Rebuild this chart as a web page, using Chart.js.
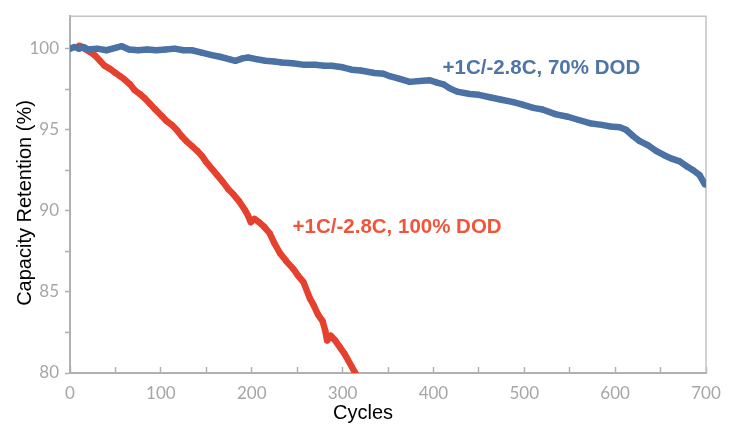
<!DOCTYPE html>
<html>
<head>
<meta charset="utf-8">
<script src="https://cdn.jsdelivr.net/npm/chart.js@4/dist/chart.umd.min.js"></script>
<style>
  html, body { margin: 0; padding: 0; background: #fff; }
  #wrap { width: 741px; height: 425px; position: relative; }
</style>
</head>
<body>
<div id="wrap"><canvas id="retentionChart"></canvas></div>
<script>
// 70% DOD series (blue)
const cycles70 = [0, 5, 10, 15, 20, 30, 40, 50, 57, 65, 75, 85, 95, 105, 115, 125, 134, 145, 156, 165,
  175, 182, 190, 196, 205, 215, 225, 233, 245, 258, 270, 280, 288, 300, 310, 320, 335, 345, 352, 362,
  374, 385, 396, 404, 411, 418, 426, 440, 450, 462, 475, 488, 498, 510, 520, 535, 548, 560, 572, 585,
  595, 605, 612, 620, 627, 636, 645, 655, 663, 671, 680, 686, 693, 699];
const retention70 = [100.0, 100.1, 100.0, 100.1, 99.95, 100.0, 99.9, 100.05, 100.15, 99.95, 99.9, 99.95, 99.9, 99.95, 100.0, 99.9, 99.9, 99.75, 99.6, 99.5,
  99.35, 99.25, 99.4, 99.45, 99.35, 99.25, 99.2, 99.15, 99.1, 99.0, 99.0, 98.95, 98.95, 98.85, 98.7, 98.65, 98.5, 98.45, 98.3, 98.15,
  97.95, 98.0, 98.05, 97.9, 97.8, 97.55, 97.35, 97.2, 97.15, 97.0, 96.85, 96.7, 96.55, 96.35, 96.25, 95.95, 95.8, 95.6, 95.4, 95.3,
  95.2, 95.15, 95.0, 94.6, 94.3, 94.05, 93.7, 93.4, 93.2, 93.05, 92.7, 92.5, 92.2, 91.6];

// 100% DOD series (red)
const cycles100 = [10, 16, 22, 27, 33, 38, 44, 50, 55, 60, 66, 71, 77, 82, 88, 93, 101, 106, 112, 118,
  123, 128, 134, 140, 145, 150, 156, 162, 168, 174, 180, 186, 192, 196, 199, 203, 208, 214, 220, 225, 231,
  238, 246, 251, 257, 264, 268, 273, 278, 281, 283, 287, 292, 297, 302, 306, 310, 314, 318];
const retention100 = [100.2, 100.0, 99.8, 99.6, 99.25, 98.95, 98.75, 98.5, 98.3, 98.1, 97.8, 97.45, 97.2, 96.95, 96.6, 96.3, 95.85, 95.55, 95.3, 94.95,
  94.6, 94.3, 94.0, 93.7, 93.4, 93.0, 92.6, 92.2, 91.8, 91.35, 91.0, 90.6, 90.1, 89.7, 89.3, 89.5, 89.3, 89.0, 88.6, 88.0, 87.4,
  86.9, 86.4, 86.0, 85.6, 84.6, 84.2, 83.6, 83.2, 82.6, 82.0, 82.3, 82.0, 81.6, 81.2, 80.8, 80.4, 80.0, 79.6];

const xTicks = [0, 100, 200, 300, 400, 500, 600, 700];
const yTicks = [80, 85, 90, 95, 100];

const seriesLabels = ['+1C/-2.8C, 70% DOD', '+1C/-2.8C, 100% DOD'];
const xTitle = 'Cycles';
const yTitle = 'Capacity Retention (%)';

const blue = '#4a72a5';
const red = '#e6412e';

function toPoints(xs, ys) {
    return xs.map((x, i) => ({ x: x, y: ys[i] }));
}

// Frame + annotation texts
const decorPlugin = {
    id: 'decor',
    beforeDatasetsDraw(chart) {
        const { ctx, chartArea } = chart;
        ctx.save();
        ctx.strokeStyle = '#c4c4c4';
        ctx.lineWidth = 1.5;
        ctx.beginPath();
        ctx.moveTo(chartArea.left, chartArea.top);
        ctx.lineTo(chartArea.right, chartArea.top);
        ctx.lineTo(chartArea.right, chartArea.bottom);
        ctx.stroke();
        ctx.restore();
    },
    afterDatasetsDraw(chart) {
        const { ctx, scales } = chart;
        ctx.save();
        ctx.textBaseline = 'middle';
        ctx.textAlign = 'left';
        ctx.font = 'bold 20.5px "Liberation Sans", Arial, sans-serif';
        ctx.fillStyle = '#4f74a6';
        ctx.fillText(seriesLabels[0], scales.x.getPixelForValue(410), scales.y.getPixelForValue(98.8));
        ctx.fillStyle = '#f0553b';
        ctx.fillText(seriesLabels[1], scales.x.getPixelForValue(245), scales.y.getPixelForValue(89.0));

        // axis titles
        ctx.fillStyle = '#000';
        ctx.font = '20px "Liberation Sans", Arial, sans-serif';
        ctx.textAlign = 'center';
        ctx.fillText(xTitle, 363, 413);
        ctx.translate(25, 203);
        ctx.rotate(-Math.PI / 2);
        ctx.fillText(yTitle, 0, 0);
        ctx.restore();
    }
};

const ctx = document.getElementById('retentionChart').getContext('2d');
const retentionChart = new Chart(ctx, {
    type: 'scatter',
    data: {
        datasets: [
            {
                label: seriesLabels[0],
                data: toPoints(cycles70, retention70),
                showLine: true,
                borderColor: blue,
                backgroundColor: blue,
                borderWidth: 6.5,
                borderJoinStyle: 'round',
                pointRadius: 3,
                pointBorderWidth: 0
            },
            {
                label: seriesLabels[1],
                data: toPoints(cycles100, retention100),
                showLine: true,
                borderColor: red,
                backgroundColor: red,
                borderWidth: 6.5,
                borderJoinStyle: 'round',
                pointRadius: 3,
                pointBorderWidth: 0
            }
        ]
    },
    options: {
        responsive: true,
        maintainAspectRatio: false,
        animation: false,
        layout: {
            padding: { top: 7, right: 35, left: 0, bottom: 0 }
        },
        scales: {
            x: {
                type: 'linear',
                min: 0,
                max: 700,
                afterFit: (scale) => { scale.height = 52; },
                afterBuildTicks: (scale) => {
                    scale.ticks = [];
                    for (let v = 0; v <= 700; v += 50) scale.ticks.push({ value: v });
                },
                ticks: {
                    color: '#a6a6a6',
                    font: { family: 'Lato', size: 17 },
                    padding: 16,
                    maxRotation: 0,
                    callback: (v) => xTicks.includes(v) ? String(v) : ''
                },
                grid: {
                    drawOnChartArea: false,
                    tickLength: -6,
                    tickColor: '#b0b0b0',
                    tickWidth: 1.5
                },
                border: { color: '#b0b0b0', width: 2 }
            },
            y: {
                min: 80,
                max: 102,
                afterFit: (scale) => { scale.width = 70; },
                afterBuildTicks: (scale) => {
                    scale.ticks = [];
                    for (let v = 80; v <= 100; v += 2.5) scale.ticks.push({ value: v });
                },
                ticks: {
                    color: '#a6a6a6',
                    font: { family: 'Lato', size: 17 },
                    padding: 6,
                    callback: (v) => yTicks.includes(v) ? String(v) : ''
                },
                grid: {
                    drawOnChartArea: false,
                    tickLength: 5,
                    tickColor: '#b0b0b0',
                    tickWidth: 1.5
                },
                border: { color: '#b0b0b0', width: 2 }
            }
        },
        plugins: {
            legend: { display: false },
            tooltip: { enabled: false }
        }
    },
    plugins: [decorPlugin]
});
</script>
</body>
</html>
